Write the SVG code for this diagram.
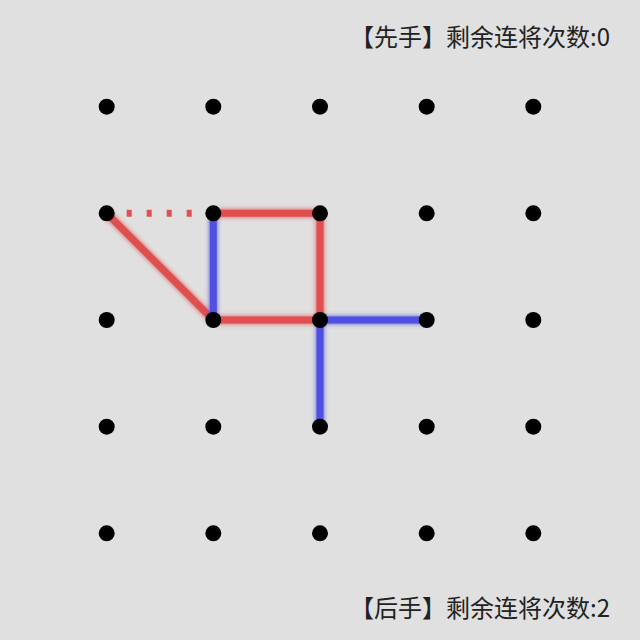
<svg xmlns="http://www.w3.org/2000/svg" width="640" height="640" viewBox="0 0 640 640">
<defs>
<style>
.red{stroke:#e05050;stroke-width:7;fill:none;filter:url(#glowR)}
.blue{stroke:#5050e0;stroke-width:7;fill:none;filter:url(#glowB)}
.dot{fill:#000}
.lbl{font-family:"Noto Sans CJK SC","Noto Sans",sans-serif;font-size:24px;fill:#222;text-anchor:end}
</style>
<filter id="glowR" filterUnits="userSpaceOnUse" x="0" y="0" width="640" height="640">
<feGaussianBlur in="SourceGraphic" stdDeviation="2.5" result="b"/>
<feMerge><feMergeNode in="b"/><feMergeNode in="SourceGraphic"/></feMerge>
</filter>
<filter id="glowB" filterUnits="userSpaceOnUse" x="0" y="0" width="640" height="640">
<feGaussianBlur in="SourceGraphic" stdDeviation="2.5" result="b"/>
<feMerge><feMergeNode in="b"/><feMergeNode in="SourceGraphic"/></feMerge>
</filter>
</defs>
<rect width="640" height="640" fill="#e0e0e0"/>
<g id="connectors">
<line class="red" x1="213.3" y1="213.3" x2="320" y2="213.3"/>
<line class="red" x1="320" y1="213.3" x2="320" y2="320"/>
<line class="red" x1="213.3" y1="320" x2="320" y2="320"/>
<line class="red" x1="106.7" y1="213.3" x2="213.3" y2="320"/>
<line x1="106.7" y1="213.3" x2="213.3" y2="213.3" stroke="#e05050" stroke-width="7" stroke-dasharray="5 15"/>
<line class="blue" x1="213.3" y1="213.3" x2="213.3" y2="320"/>
<line class="blue" x1="320" y1="320" x2="426.7" y2="320"/>
<line class="blue" x1="320" y1="320" x2="320" y2="426.7"/>
</g>
<g id="dots">
<g id="r0">
<circle class="dot" cx="106.7" cy="106.7" r="8"/><circle class="dot" cx="213.3" cy="106.7" r="8"/><circle class="dot" cx="320" cy="106.7" r="8"/><circle class="dot" cx="426.7" cy="106.7" r="8"/><circle class="dot" cx="533.3" cy="106.7" r="8"/>
</g>
<g id="r1">
<circle class="dot" cx="106.7" cy="213.3" r="8"/><circle class="dot" cx="213.3" cy="213.3" r="8"/><circle class="dot" cx="320" cy="213.3" r="8"/><circle class="dot" cx="426.7" cy="213.3" r="8"/><circle class="dot" cx="533.3" cy="213.3" r="8"/>
</g>
<g id="r2">
<circle class="dot" cx="106.7" cy="320" r="8"/><circle class="dot" cx="213.3" cy="320" r="8"/><circle class="dot" cx="320" cy="320" r="8"/><circle class="dot" cx="426.7" cy="320" r="8"/><circle class="dot" cx="533.3" cy="320" r="8"/>
</g>
<g id="r3">
<circle class="dot" cx="106.7" cy="426.7" r="8"/><circle class="dot" cx="213.3" cy="426.7" r="8"/><circle class="dot" cx="320" cy="426.7" r="8"/><circle class="dot" cx="426.7" cy="426.7" r="8"/><circle class="dot" cx="533.3" cy="426.7" r="8"/>
</g>
<g id="r4">
<circle class="dot" cx="106.7" cy="533.3" r="8"/><circle class="dot" cx="213.3" cy="533.3" r="8"/><circle class="dot" cx="320" cy="533.3" r="8"/><circle class="dot" cx="426.7" cy="533.3" r="8"/><circle class="dot" cx="533.3" cy="533.3" r="8"/>
</g>
</g>
<g id="labels">
<text class="lbl" x="610" y="46">【先手】剩余连将次数:0</text>
<text class="lbl" x="610" y="617">【后手】剩余连将次数:2</text>
</g>
</svg>
